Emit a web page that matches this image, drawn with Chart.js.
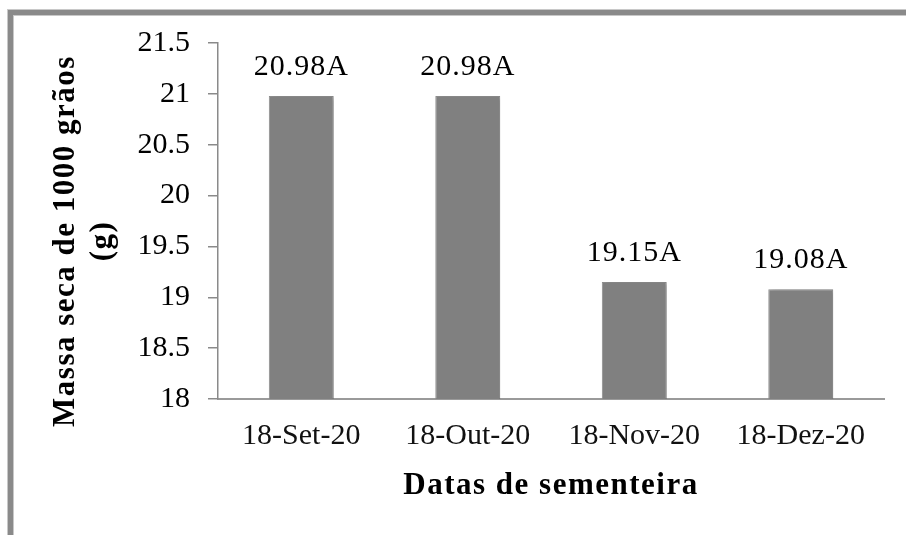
<!DOCTYPE html>
<html>
<head>
<meta charset="utf-8">
<script src="https://cdn.jsdelivr.net/npm/chart.js@4/dist/chart.umd.min.js"></script>
<style>
  html, body { margin: 0; padding: 0; background: #fff; }
  #wrap { position: relative; width: 906px; height: 535px; overflow: hidden; }
  #frame {
    position: absolute; left: 8px; top: 10px; right: -20px; bottom: -20px;
    border-left: 5px solid #8a8a8a; border-top: 5px solid #8a8a8a;
    box-shadow: -1px -1px 0 #c8c8c8, inset 1px 1px 0 #c8c8c8;
  }
  canvas { position: absolute; left: 0; top: 0; }
</style>
</head>
<body>
<div id="wrap">
  <div id="frame"></div>
  <canvas id="c" width="906" height="535"></canvas>
</div>
<script>
// Sowing dates and 1000-grain dry mass (g), with mean separation letters
const categories = ['18-Set-20', '18-Out-20', '18-Nov-20', '18-Dez-20'];
const massValues = [20.98, 20.98, 19.15, 19.08];
const letters = ['A', 'A', 'A', 'A'];
const yTickLabels = ['18', '18.5', '19', '19.5', '20', '20.5', '21', '21.5'];
const yTitleLines = ['Massa seca de 1000 grãos', '(g)'];
const xTitle = 'Datas de sementeira';

const SERIF = '"Liberation Serif", "Times New Roman", serif';

// Soft shadow behind the bars
const barShadow = {
  id: 'barShadow',
  beforeDatasetsDraw(chart) {
    const ctx = chart.ctx;
    ctx.save();
    ctx.shadowColor = 'rgba(0,0,0,0.22)';
    ctx.shadowBlur = 5;
    ctx.shadowOffsetX = 3;
    ctx.shadowOffsetY = 1;
  },
  afterDatasetsDraw(chart) {
    chart.ctx.restore();
  }
};

// Value + letter above each bar
const valueLabels = {
  id: 'valueLabels',
  afterDatasetsDraw(chart) {
    const ctx = chart.ctx;
    const meta = chart.getDatasetMeta(0);
    ctx.save();
    ctx.font = '30px ' + SERIF;
    ctx.fillStyle = '#000';
    ctx.textAlign = 'center';
    ctx.textBaseline = 'alphabetic';
    if ('letterSpacing' in ctx) ctx.letterSpacing = '1px';
    meta.data.forEach((bar, i) => {
      const txt = massValues[i].toFixed(2) + letters[i];
      ctx.fillText(txt, bar.x, bar.y - 21);
    });
    ctx.restore();
  }
};

// Axis titles
const axisTitles = {
  id: 'axisTitles',
  afterDraw(chart) {
    const ctx = chart.ctx;
    const area = chart.chartArea;
    ctx.save();
    ctx.fillStyle = '#000';
    ctx.font = 'bold 31px ' + SERIF;
    ctx.textAlign = 'center';
    ctx.textBaseline = 'middle';
    if ('letterSpacing' in ctx) ctx.letterSpacing = '1.5px';
    ctx.fillText(xTitle, (area.left + area.right) / 2, 486);

    ctx.translate(0, 241);
    ctx.rotate(-Math.PI / 2);
    ctx.fillText(yTitleLines[0], 0, 66);
    ctx.fillText(yTitleLines[1], 0, 103);
    ctx.restore();
  }
};

new Chart(document.getElementById('c'), {
  type: 'bar',
  data: {
    labels: categories,
    datasets: [{
      data: massValues,
      backgroundColor: '#808080',
      borderColor: '#8e8e8e',
      borderWidth: 1,
      categoryPercentage: 1,
      barPercentage: 0.39
    }]
  },
  options: {
    responsive: false,
    animation: false,
    devicePixelRatio: 1,
    layout: { padding: { left: 0, right: 22, top: 43, bottom: 0 } },
    plugins: {
      legend: { display: false },
      tooltip: { enabled: false }
    },
    scales: {
      x: {
        grid: { display: false, drawTicks: false },
        border: { display: true, color: '#9a9a9a', width: 2 },
        ticks: {
          color: '#111',
          font: { family: SERIF, size: 30 },
          padding: 19,
          maxRotation: 0,
          autoSkip: false
        },
        afterFit(scale) { scale.height = 535 - 399; }
      },
      y: {
        min: 18,
        max: 21.5,
        grid: { drawOnChartArea: false, drawTicks: true, tickLength: 10, color: '#8a8a8a', lineWidth: 1.5 },
        border: { display: true, color: '#8a8a8a', width: 1.5 },
        ticks: {
          stepSize: 0.5,
          color: '#000',
          font: { family: SERIF, size: 30 },
          padding: 18,
          callback: (v, i) => yTickLabels[i]
        },
        afterFit(scale) { scale.width = 218; }
      }
    }
  },
  plugins: [barShadow, valueLabels, axisTitles]
});
</script>
</body>
</html>
